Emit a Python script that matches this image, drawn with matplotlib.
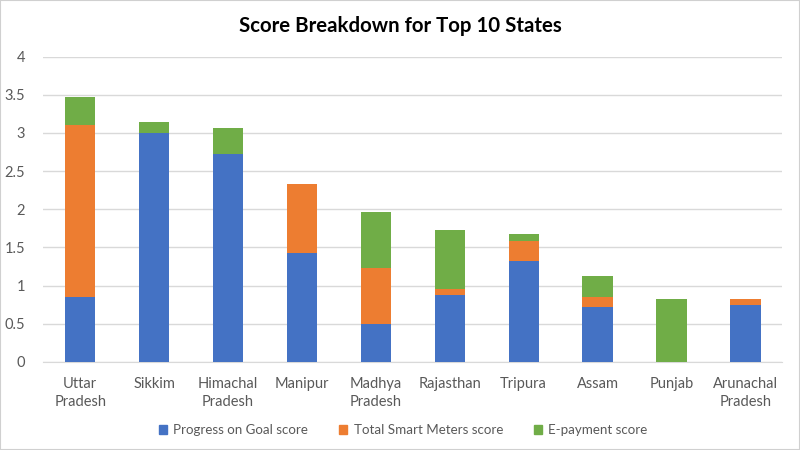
import matplotlib
matplotlib.use('Agg')
import matplotlib.pyplot as plt
import matplotlib.patches as mpatches
import numpy as np

plt.rcParams['font.family'] = ['Lato', 'DejaVu Sans']

# ── Data ──────────────────────────────────────────────────────────────────────
states = ['Uttar\nPradesh', 'Sikkim', 'Himachal\nPradesh', 'Manipur', 'Madhya\nPradesh',
          'Rajasthan', 'Tripura', 'Assam', 'Punjab', 'Arunachal\nPradesh']
progress = [0.85, 3.00, 2.72, 1.43, 0.50, 0.87, 1.32, 0.72, 0.00, 0.75]
smart_meters = [2.25, 0.00, 0.00, 0.90, 0.73, 0.09, 0.26, 0.13, 0.00, 0.07]
epayment = [0.37, 0.14, 0.35, 0.00, 0.73, 0.77, 0.09, 0.27, 0.82, 0.00]
series_names = ['Progress on Goal score', 'Total Smart Meters score', 'E-payment score']
colors = ['#4472C4', '#ED7D31', '#70AD47']

# ── Chart ─────────────────────────────────────────────────────────────────────
fig = plt.figure(figsize=(8, 4.5), dpi=100)
ax = fig.add_axes([0.054, 0.196, 0.924, 0.678])

x = np.arange(len(states))
w = 0.41
bottom = np.zeros(len(states))
for vals, color, name in zip([progress, smart_meters, epayment], colors, series_names):
    ax.bar(x, vals, w, bottom=bottom, color=color, label=name, zorder=3)
    bottom += np.array(vals)

ax.set_xlim(-0.5, len(states) - 0.5)
ax.set_ylim(0, 4)
ax.set_yticks(np.arange(0, 4.01, 0.5))
ax.set_yticklabels(['0', '0.5', '1', '1.5', '2', '2.5', '3', '3.5', '4'])
ax.set_xticks(x)
ax.set_xticklabels(states, linespacing=1.35)
ax.tick_params(axis='both', length=0, labelsize=10.5, colors='#595959')
ax.tick_params(axis='x', pad=11)
ax.tick_params(axis='y', pad=13)
ax.grid(axis='y', color='#D9D9D9', linewidth=1, zorder=0)
for s in ['top', 'right', 'left']:
    ax.spines[s].set_visible(False)
ax.spines['bottom'].set_color('#D9D9D9')

fig.text(0.5, 0.943, 'Score Breakdown for Top 10 States', ha='center', va='center',
         fontsize=14.7, fontweight='bold', color='#000000')

handles = [mpatches.Patch(color=c, label=n) for c, n in zip(colors, series_names)]
fig.legend(handles=handles, loc='center', bbox_to_anchor=(0.504, 0.044), ncol=3,
           frameon=False, fontsize=9.6, handlelength=0.6, handleheight=0.6,
           columnspacing=2.3, handletextpad=0.5, labelcolor='#595959')

fig.patches.append(mpatches.Rectangle((0, 0), 1, 1, transform=fig.transFigure,
                                      fill=False, edgecolor='#D0D0D0', linewidth=1.5))

plt.savefig('out.png', dpi=100)
